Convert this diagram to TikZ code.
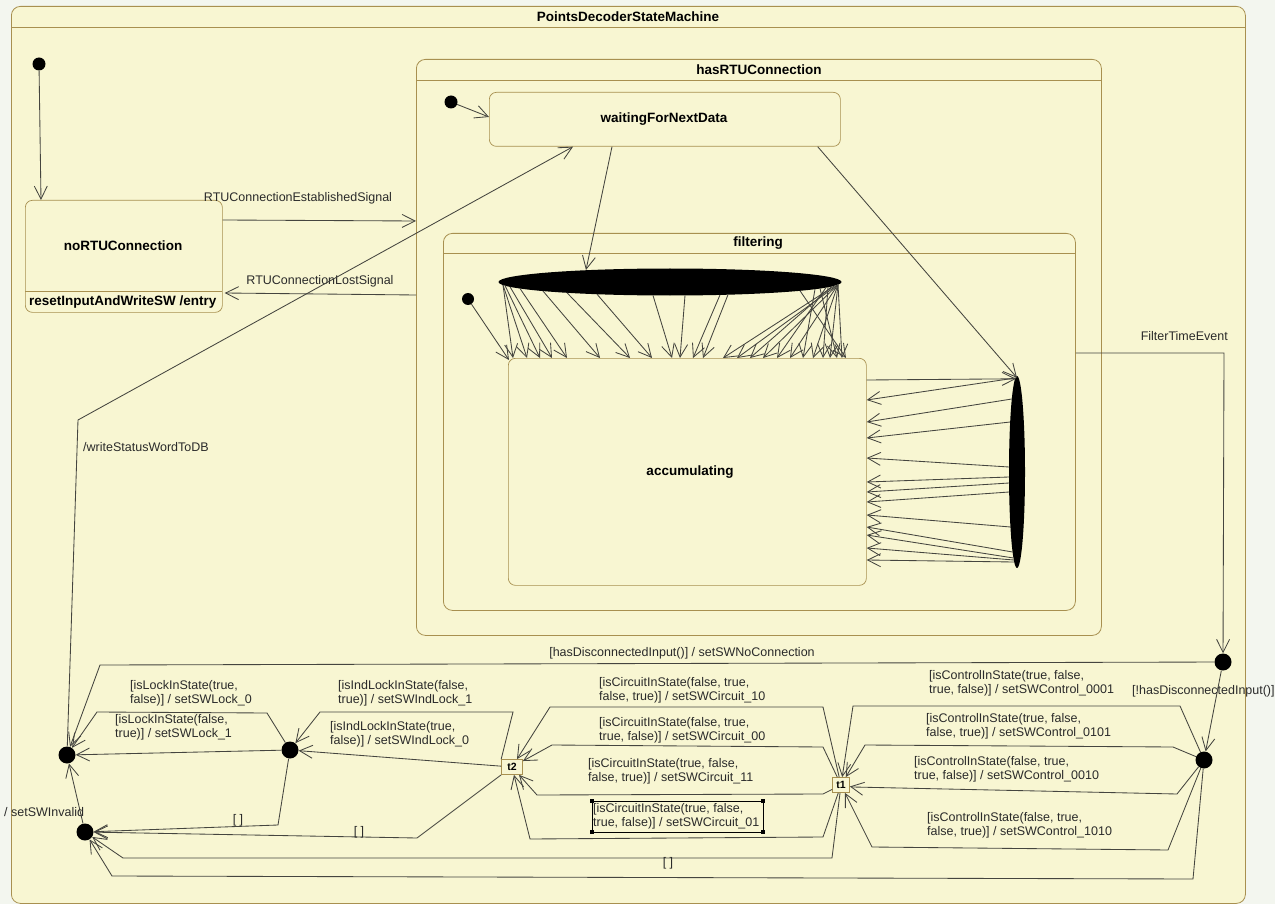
\documentclass[tikz,border=0pt]{standalone}
\usepackage{fontspec}
\setmainfont{Liberation Sans}
\usetikzlibrary{arrows.meta,shapes.geometric,calc}
\definecolor{statefill}{HTML}{F8F6D2}
\definecolor{stateline}{HTML}{A89050}
\definecolor{wire}{HTML}{45453F}
\definecolor{paper}{HTML}{F3F6EF}
\definecolor{ink}{HTML}{2A2A2A}
\tikzset{
  region/.style={draw=stateline, fill=statefill, rounded corners=9pt, line width=0.8pt, inner sep=0pt, anchor=north west},
  simple/.style={draw=stateline, fill=statefill, rounded corners=7pt, line width=0.7pt, inner sep=0pt, anchor=north west},
  sep/.style={draw=stateline, line width=0.8pt},
  initdot/.style={circle, fill=black, inner sep=0pt, minimum size=13pt},
  junction/.style={circle, fill=black, inner sep=0pt, minimum size=17pt},
  bar/.style={ellipse, fill=black, inner sep=0pt},
  trans/.style={draw=wire, line width=0.85pt, -{Straight Barb[length=13pt,width=13pt]}},
  lbl/.style={font=\fontsize{12.5}{14}\selectfont, text=ink, inner sep=0pt, align=left},
  ttl/.style={font=\bfseries\fontsize{13.5}{15}\selectfont, inner sep=0pt},
  choice/.style={draw=stateline, fill=statefill, line width=0.7pt, minimum height=15pt, inner sep=0pt, font=\bfseries\fontsize{10.5}{12}\selectfont},
}
\begin{document}
\begin{tikzpicture}[x=1pt,y=-1pt]
\fill[paper] (0,0) rectangle (1275,904);
\useasboundingbox (0,0) rectangle (1275,904);

% ---------- composite states ----------
\node[region, minimum width=1234pt, minimum height=897pt] (machine) at (11,6) {};
\draw[sep] (11,27) -- (1245,27);
\node[ttl] (machineName) at (628,17) {PointsDecoderStateMachine};

\node[region, minimum width=685pt, minimum height=576pt] (hasRTU) at (416,59) {};
\draw[sep] (416,80) -- (1101,80);
\node[ttl] (hasRTUName) at (759,70) {hasRTUConnection};

\node[region, minimum width=632pt, minimum height=377pt] (filtering) at (443,233) {};
\draw[sep] (443,253) -- (1075,253);
\node[ttl] (filteringName) at (758,243) {filtering};

% ---------- simple states ----------
\node[simple, minimum width=197pt, minimum height=112pt] (noRTU) at (25,200) {};
\draw[sep] (25,291) -- (222,291);
\node[ttl] (noRTUName) at (123,246) {noRTUConnection};
\node[ttl, anchor=west] (noRTUEntry) at (29,302) {resetInputAndWriteSW /entry};

\node[simple, minimum width=351pt, minimum height=54pt] (waiting) at (489,92) {};
\node[ttl] (waitingName) at (664,119) {waitingForNextData};

\node[simple, minimum width=358pt, minimum height=227pt] (acc) at (508,358) {};
\node[ttl] (accName) at (690,472) {accumulating};

% ---------- pseudo states ----------
\node[initdot] (init0) at (39,64) {};
\node[initdot] (init1) at (451,102) {};
\node[initdot, minimum size=12pt] (init2) at (468,299) {};
\node[bar, minimum width=343pt, minimum height=27pt] (bar1) at (670,282) {};
\node[bar, minimum width=16pt, minimum height=192pt] (bar2) at (1017,472) {};

\node[junction] (D1) at (1223,662) {};
\node[junction] (D2) at (1204,760) {};
\node[junction] (L1) at (67,755) {};
\node[junction] (L2) at (290,750) {};
\node[junction] (L3) at (85,832) {};
\node[choice, minimum width=21pt] (t2) at (512,767) {t2};
\node[choice, minimum width=17pt] (t1) at (841,785) {t1};

% ---------- top level transitions ----------
\draw[trans] (init0) -- ($(noRTU.north west)+(16,0)$);
\draw[trans] ($(noRTU.north east)+(0,20)$) -- ($(hasRTU.north west)+(0,162)$);
\node[lbl] (estLbl) at (298,198) {RTUConnectionEstablishedSignal};
\draw[trans] ($(hasRTU.north west)+(0,236)$) -- ($(noRTU.north east)+(2,93)$);
\node[lbl] (lostLbl) at (320,281) {RTUConnectionLostSignal};

\draw[trans] (init1) -- ($(waiting.north west)+(0,25)$);
\draw[trans] ($(waiting.south west)+(123,0)$) -- ($(bar1.center)+(-84,-12)$);
\draw[trans] ($(waiting.south east)+(-23,0)$) -- ($(bar2.north)+(0,2)$);
\draw[trans] (init2) -- ($(acc.north west)+(1,2)$);

% fork bar into accumulating
\foreach \dx/\ex in {-167/5,-167/19,-165/32,-160/44,-150/59,-127/92,-103/122,-73/144,
                     -17/164,15/172,50/185,58/195,165/215,168/229,162/242,168/255,
                     156/269,168/282,145/295,168/305,158/315,168/322,150/329,168/334,130/338}{
  \pgfmathsetmacro\dy{13.5*sqrt(max(0,1-(\dx/171)^2))}
  \draw[trans] ($(bar1.center)+(\dx,\dy)$) -- ($(acc.north west)+(\ex,0)$);
}

% accumulating <-> side bar
\draw[trans] ($(acc.north east)+(0,22)$) -- ($(bar2.north)+(-1,3)$);
\foreach \sy/\ey in {378/400,399/422,422/438,467/458,477/482,483/492,492/502,
                     527/515,552/527,558/535,560/548,562/560}{
  \pgfmathsetmacro\sx{-8*sqrt(max(0,1-((\sy-472)/96)^2))}
  \pgfmathsetmacro\sdy{\sy-472}
  \pgfmathsetmacro\edy{\ey-358}
  \draw[trans] ($(bar2.center)+(\sx,\sdy)$) -- ($(acc.north east)+(0,\edy)$);
}

% filter timeout
\draw[trans] ($(filtering.north east)+(0,120)$) -- (1224,353) -- (D1);
\node[lbl, anchor=east] (filterLbl) at (1228,336) {FilterTimeEvent};

\draw[trans] (D1) -- (D2);
\node[lbl, anchor=west] (notDiscLbl) at (1132,691) {[!hasDisconnectedInput()]};

\draw[trans] (D1) -- (100,665) -- (L1);
\node[lbl] (discLbl) at (682,653) {[hasDisconnectedInput()] / setSWNoConnection};

% write status word
\draw[trans] (L1) -- (78,420) -- ($(waiting.south west)+(84,0)$);
\node[lbl, anchor=west] (writeLbl) at (83,447) {/writeStatusWordToDB};

% lock decisions
\draw[trans] (L2) -- (L1);
\draw[trans] (L2) -- (267,713) -- (97,712) -- (L1);
\node[lbl, anchor=west] (lock0Lbl) at (130,693) {[isLockInState(true,\\false)] / setSWLock\_0};
\node[lbl, anchor=west] (lock1Lbl) at (115,727) {[isLockInState(false,\\true)] / setSWLock\_1};

\draw[trans] (L3) -- (L1);
\node[lbl, anchor=west] (invalidLbl) at (4,812) {/ setSWInvalid};

% indication lock decisions
\draw[trans] (t2) -- (L2);
\draw[trans] (t2.north west) -- (513,712) -- (320,712) -- (L2);
\node[lbl, anchor=west] (ind1Lbl) at (338,693) {[isIndLockInState(false,\\true)] / setSWIndLock\_1};
\node[lbl, anchor=west] (ind0Lbl) at (330,734) {[isIndLockInState(true,\\false)] / setSWIndLock\_0};

% else branches to the invalid junction
\draw[trans] (L2) -- (278,825) -- (L3);
\node[lbl] (else1Lbl) at (238,820) {[ ]};
\draw[trans] (t2.south west) -- (417,838) -- (L3);
\node[lbl] (else2Lbl) at (359,832) {[ ]};
\draw[trans] (t1) -- (832,858) -- (123,858) -- (L3);
\node[lbl] (else3Lbl) at (668,863) {[ ]};
\draw[trans] (D2) -- (1193,879) -- (112,876) -- (L3);

% circuit decisions
\draw[trans] (t1) -- (823,707) -- (550,707) -- (t2);
\node[lbl, anchor=west] (c10Lbl) at (599,690) {[isCircuitInState(false, true,\\false, true)] / setSWCircuit\_10};
\draw[trans] (t1) -- (823,747) -- (552,745) -- (t2);
\node[lbl, anchor=west] (c00Lbl) at (599,730) {[isCircuitInState(false, true,\\true, false)] / setSWCircuit\_00};
\draw[trans] (t1) -- (823,794) -- (537,795) -- (t2);
\node[lbl, anchor=west] (c11Lbl) at (588,771) {[isCircuitInState(true, false,\\false, true)] / setSWCircuit\_11};
\draw[trans] (t1) -- (823,837) -- (530,839) -- (t2);
\node[lbl, anchor=west] (c01Lbl) at (593,816) {[isCircuitInState(true, false,\\true, false)] / setSWCircuit\_01};
% selection frame round the last label
\draw[black, line width=0.6pt] (592,801) rectangle (763,832);
\foreach \hx/\hy in {592/801,763/801,592/832,763/832}
  \fill[black] (\hx-2,\hy-2) rectangle (\hx+2,\hy+2);

% control decisions
\draw[trans] (D2) -- (1180,706) -- (853,706) -- (t1);
\node[lbl, anchor=west] (k0001Lbl) at (929,683) {[isControlInState(true, false,\\true, false)] / setSWControl\_0001};
\draw[trans] (D2) -- (1173,747) -- (865,745) -- (t1);
\node[lbl, anchor=west] (k0101Lbl) at (926,726) {[isControlInState(true, false,\\false, true)] / setSWControl\_0101};
\draw[trans] (D2) -- (1177,794) -- (853,787) -- (t1);
\node[lbl, anchor=west] (k0010Lbl) at (914,769) {[isControlInState(false, true,\\true, false)] / setSWControl\_0010};
\draw[trans] (D2) -- (1168,850) -- (872,847) -- (t1);
\node[lbl, anchor=west] (k1010Lbl) at (927,825) {[isControlInState(false, true,\\false, true)] / setSWControl\_1010};

\end{tikzpicture}
\end{document}
